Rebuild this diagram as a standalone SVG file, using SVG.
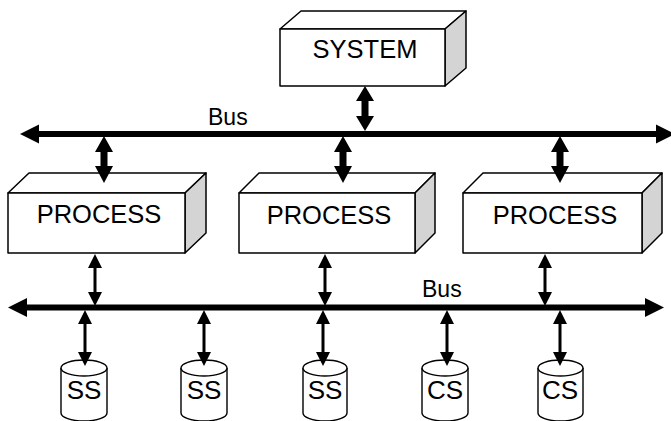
<svg xmlns="http://www.w3.org/2000/svg" width="671" height="421" viewBox="0 0 671 421">
  <style>
    .face { fill: #ffffff; stroke: #000000; stroke-width: 1.5; stroke-linejoin: round; }
    .side { fill: #d4d4d4; stroke: #000000; stroke-width: 1.5; stroke-linejoin: round; }
    .cyl { fill: #ffffff; stroke: #000000; stroke-width: 1.4; }
    .label { font-family: "Liberation Sans", Arial, sans-serif; font-size: 25.5px; fill: #000000; text-anchor: middle; }
    .store-label { font-family: "Liberation Sans", Arial, sans-serif; font-size: 26px; fill: #000000; text-anchor: middle; }
    .bus-label { font-family: "Liberation Sans", Arial, sans-serif; font-size: 23px; fill: #000000; }
    .bus { stroke: #000000; stroke-width: 6; fill: none; }
    .arrow { fill: #000000; stroke: none; }
  </style>

  <rect width="671" height="421" fill="#ffffff"/>

  <!-- SYSTEM block -->
  <g id="system">
    <polygon class="face" points="280,29 301,11 466,11 445,29"/>
    <polygon class="side" points="445,29 466,11 466,68 445,86"/>
    <rect class="face" x="280" y="29" width="165" height="57"/>
    <text class="label" x="365" y="58">SYSTEM</text>
  </g>

  <!-- PROCESS blocks -->
  <g id="process-1">
    <polygon class="face" points="8,193 29,173 206,173 185,193"/>
    <polygon class="side" points="185,193 206,173 206,233 185,253"/>
    <rect class="face" x="8" y="193" width="177" height="60"/>
    <text class="label" x="99" y="223">PROCESS</text>
  </g>
  <g id="process-2">
    <polygon class="face" points="239,193 259,173 435,173 415,193"/>
    <polygon class="side" points="415,193 435,173 435,233 415,253"/>
    <rect class="face" x="239" y="193" width="176" height="60"/>
    <text class="label" x="329" y="224">PROCESS</text>
  </g>
  <g id="process-3">
    <polygon class="face" points="463,193 483,173 662,173 642,193"/>
    <polygon class="side" points="642,193 662,173 662,233 642,253"/>
    <rect class="face" x="463" y="193" width="179" height="60"/>
    <text class="label" x="555" y="224">PROCESS</text>
  </g>

  <!-- storage cylinders -->
  <g id="ss-1">
    <path class="cyl" d="M61,368 L61,413 A23,8 0 0 0 107,413 L107,368"/>
    <ellipse class="cyl" cx="84" cy="368" rx="23" ry="8"/>
    <text class="store-label" x="84" y="399">SS</text>
  </g>
  <g id="ss-2">
    <path class="cyl" d="M181,368 L181,413 A23,8 0 0 0 227,413 L227,368"/>
    <ellipse class="cyl" cx="204" cy="368" rx="23" ry="8"/>
    <text class="store-label" x="204" y="399">SS</text>
  </g>
  <g id="ss-3">
    <path class="cyl" d="M303,368 L303,413 A22,8 0 0 0 347,413 L347,368"/>
    <ellipse class="cyl" cx="325" cy="368" rx="22" ry="8"/>
    <text class="store-label" x="325" y="399">SS</text>
  </g>
  <g id="cs-1">
    <path class="cyl" d="M422,368 L422,413 A23,8 0 0 0 468,413 L468,368"/>
    <ellipse class="cyl" cx="445" cy="368" rx="23" ry="8"/>
    <text class="store-label" x="445" y="399">CS</text>
  </g>
  <g id="cs-2">
    <path class="cyl" d="M538,368 L538,413 A22.5,8 0 0 0 583,413 L583,368"/>
    <ellipse class="cyl" cx="560.5" cy="368" rx="22.5" ry="8"/>
    <text class="store-label" x="560" y="399">CS</text>
  </g>

  <!-- buses and links -->
  <g id="connectors">
    <!-- upper bus -->
    <line class="bus" x1="36" y1="134" x2="660" y2="134"/>
    <polygon class="arrow" points="20,134 39,124.5 39,143.5"/>
    <polygon class="arrow" points="675,134 656,124.5 656,143.5"/>
    <text class="bus-label" x="208" y="125">Bus</text>

    <!-- lower bus -->
    <line class="bus" x1="24" y1="307.5" x2="648" y2="307.5"/>
    <polygon class="arrow" points="8,307.5 27,298 27,317"/>
    <polygon class="arrow" points="664,307.5 645,298 645,317"/>
    <text class="bus-label" x="422" y="297">Bus</text>

    <!-- heavy links: system and processes to upper bus -->
    <path class="arrow" d="M365,86 L374,101 L368.5,101 L368.5,116 L374,116 L365,131 L356,116 L361.5,116 L361.5,101 L356,101 Z"/>
    <path class="arrow" d="M104,136 L113,152 L107.5,152 L107.5,166 L113,166 L104,183 L95,166 L100.5,166 L100.5,152 L95,152 Z"/>
    <path class="arrow" d="M343,136 L352,152 L346.5,152 L346.5,166 L352,166 L343,183 L334,166 L339.5,166 L339.5,152 L334,152 Z"/>
    <path class="arrow" d="M560,136 L569,152 L563.5,152 L563.5,166 L569,166 L560,183 L551,166 L556.5,166 L556.5,152 L551,152 Z"/>

    <!-- light links: processes to lower bus -->
    <path class="arrow" d="M95,254 L102,268 L96.5,268 L96.5,292 L102,292 L95,306 L88,292 L93.5,292 L93.5,268 L88,268 Z"/>
    <path class="arrow" d="M325,254 L332,268 L326.5,268 L326.5,292 L332,292 L325,306 L318,292 L323.5,292 L323.5,268 L318,268 Z"/>
    <path class="arrow" d="M545,254 L552,268 L546.5,268 L546.5,292 L552,292 L545,306 L538,292 L543.5,292 L543.5,268 L538,268 Z"/>

    <!-- light links: lower bus to storage -->
    <path class="arrow" d="M85,310 L92,324 L86.5,324 L86.5,352 L92,352 L85,366 L78,352 L83.5,352 L83.5,324 L78,324 Z"/>
    <path class="arrow" d="M204,310 L211,324 L205.5,324 L205.5,352 L211,352 L204,366 L197,352 L202.5,352 L202.5,324 L197,324 Z"/>
    <path class="arrow" d="M323,310 L330,324 L324.5,324 L324.5,352 L330,352 L323,366 L316,352 L321.5,352 L321.5,324 L316,324 Z"/>
    <path class="arrow" d="M447,310 L454,324 L448.5,324 L448.5,352 L454,352 L447,366 L440,352 L445.5,352 L445.5,324 L440,324 Z"/>
    <path class="arrow" d="M560,310 L567,324 L561.5,324 L561.5,352 L567,352 L560,366 L553,352 L558.5,352 L558.5,324 L553,324 Z"/>
  </g>
</svg>
